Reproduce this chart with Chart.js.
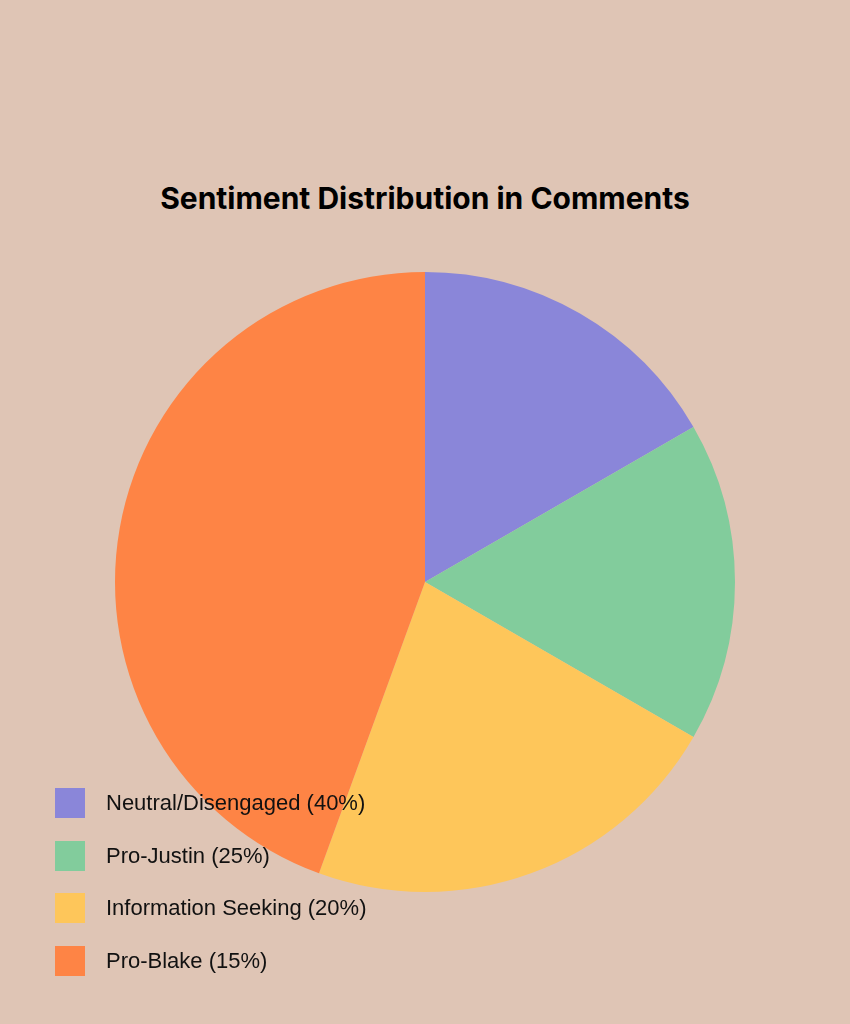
<!DOCTYPE html>
<html><head><meta charset="utf-8">
<script src="https://cdn.jsdelivr.net/npm/chart.js@4"></script>
<style>
html,body{margin:0;padding:0;background:#dfc5b5;width:850px;height:1024px;overflow:hidden;font-family:Inter,"Liberation Sans",sans-serif;}
#title{position:absolute;top:180px;left:0;width:850px;text-align:center;font-size:30px;font-weight:700;color:#000;}
#wrap{position:absolute;left:115px;top:272px;width:620px;height:620px;}
#legend{position:absolute;left:55px;top:788px;}
.item{display:flex;align-items:center;height:30px;margin-bottom:22.5px;font-size:22px;color:#111;font-family:"Liberation Sans",Arial,sans-serif;}
.box{width:30px;height:30px;margin-right:21px;}
</style></head><body>
<div id="title">Sentiment Distribution in Comments</div>
<div id="wrap"><canvas id="c" width="620" height="620"></canvas></div>
<div id="legend"></div>
<script>
const categories=["Neutral/Disengaged (40%)","Pro-Justin (25%)","Information Seeking (20%)","Pro-Blake (15%)"];
const values=[15,15,20,40];
const colors=["#8a86d9","#82cc9c","#fec65a","#fe8445"];
new Chart(document.getElementById('c'),{type:'pie',
data:{labels:categories,datasets:[{data:values,backgroundColor:colors,borderWidth:0}]},
options:{responsive:false,animation:false,layout:{padding:0},plugins:{legend:{display:false},title:{display:false},tooltip:{enabled:false}}}});
const lg=document.getElementById('legend');
categories.forEach((c,i)=>{const d=document.createElement('div');d.className='item';
d.innerHTML='<div class="box" style="background:'+colors[i]+'"></div><span>'+c+'</span>';lg.appendChild(d);});
</script></body></html>
